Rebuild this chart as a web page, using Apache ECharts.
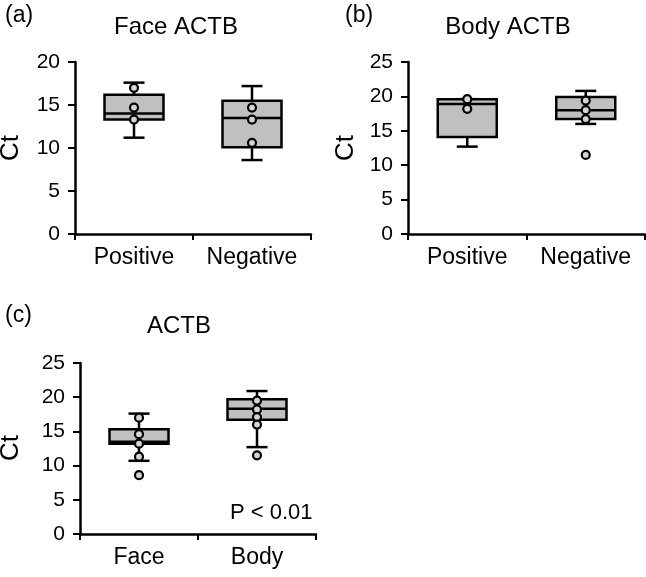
<!DOCTYPE html>
<html><head><meta charset="utf-8">
<script src="https://cdn.jsdelivr.net/npm/echarts@6/dist/echarts.min.js"></script>
<style>html,body{margin:0;padding:0;background:#fff}#c{width:646px;height:577px}</style>
</head><body><div id="c"></div>
<script>
// ---- data ----
const catsA = ['Positive', 'Negative'];
const catsB = ['Positive', 'Negative'];
const catsC = ['Face', 'Body'];
// box stats: [min, Q1, median, Q3, max]
const boxesA = [[11.2, 13.3, 14.0, 16.2, 17.6], [8.6, 10.1, 13.5, 15.5, 17.2]];
const boxesB = [[12.7, 14.1, 18.9, 19.6, 19.6], [16.0, 16.7, 18.0, 19.9, 20.8]];
const boxesC = [[10.7, 13.2, 13.5, 15.3, 17.6], [12.7, 16.7, 18.3, 19.7, 20.9]];
// individual points per category
const pointsA = [[17.0, 14.7, 13.3], [14.7, 13.3, 10.6]];
const pointsB = [[19.6, 18.2], [19.4, 18.0, 16.7, 11.5]];
const pointsC = [[17.0, 14.6, 13.2, 11.3, 8.6], [19.5, 18.2, 17.1, 16.0, 11.5]];
// y-axis ticks
const yTicksA = [0, 5, 10, 15, 20];
const yTicksB = [0, 5, 10, 15, 20, 25];
const yTicksC = [0, 5, 10, 15, 20, 25];
const titles = ['Face ACTB', 'Body ACTB', 'ACTB'];
const panelLabels = ['(a)', '(b)', '(c)'];
const yName = 'Ct';
const pText = 'P < 0.01';

// ---- styling ----
const FONT = '"Liberation Sans", Arial, sans-serif';
const INK = '#000';
const BOX_W = 59, CAP_W = 21, LW = 2.5;

function renderBox(params, api) {
  const cat = api.value(0);
  const pMin = api.coord([cat, api.value(1)]);
  const pQ1 = api.coord([cat, api.value(2)]);
  const pMed = api.coord([cat, api.value(3)]);
  const pQ3 = api.coord([cat, api.value(4)]);
  const pMax = api.coord([cat, api.value(5)]);
  const x = pMin[0], hw = BOX_W / 2, cw = CAP_W / 2;
  const ls = { stroke: INK, lineWidth: LW, fill: null };
  const line = (x1, y1, x2, y2) => ({ type: 'line', shape: { x1, y1, x2, y2 }, style: ls });
  return {
    type: 'group',
    children: [
      line(x, pMin[1], x, pQ1[1]),
      line(x, pQ3[1], x, pMax[1]),
      line(x - cw, pMin[1], x + cw, pMin[1]),
      line(x - cw, pMax[1], x + cw, pMax[1]),
      { type: 'rect', shape: { x: x - hw, y: pQ3[1], width: 2 * hw, height: pQ1[1] - pQ3[1] },
        style: { fill: '#c0c0c0', stroke: INK, lineWidth: LW } },
      line(x - hw, pMed[1], x + hw, pMed[1])
    ]
  };
}

const grids = [
  { left: 75, top: 62, width: 236, height: 172 },
  { left: 408, top: 62, width: 237, height: 172 },
  { left: 80, top: 363, width: 236, height: 171 }
];
const cats = [catsA, catsB, catsC];
const boxes = [boxesA, boxesB, boxesC];
const pts = [pointsA, pointsB, pointsC];
const yt = [yTicksA, yTicksB, yTicksC];

const xAxes = cats.map((c, i) => ({
  type: 'category', gridIndex: i, data: c, boundaryGap: true,
  axisLine: { show: true, lineStyle: { color: INK, width: LW } },
  axisTick: { show: true, length: 6, lineStyle: { color: INK, width: 2 } },
  axisLabel: { fontSize: 23, color: INK, fontFamily: FONT, margin: 12, interval: 0 },
  splitLine: { show: false }
}));
const yAxes = yt.map((t, i) => ({
  type: 'value', gridIndex: i, min: t[0], max: t[t.length - 1], interval: t[1] - t[0],
  axisLine: { show: true, lineStyle: { color: INK, width: LW } },
  axisTick: { show: true, length: 7, lineStyle: { color: INK, width: 2 } },
  axisLabel: { fontSize: 21, color: INK, fontFamily: FONT, margin: 15 },
  splitLine: { show: false }
}));

const series = [];
for (let i = 0; i < 3; i++) {
  series.push({
    type: 'custom', xAxisIndex: i, yAxisIndex: i,
    renderItem: renderBox,
    encode: { x: 0, y: [1, 2, 3, 4, 5] },
    data: boxes[i].map((b, k) => [k, ...b]),
    silent: true, z: 2
  });
  const sd = [];
  pts[i].forEach((arr, k) => arr.forEach(v => sd.push([k, v])));
  series.push({
    type: 'scatter', xAxisIndex: i, yAxisIndex: i, data: sd,
    symbol: 'circle', symbolSize: 8,
    itemStyle: { color: '#d4d4d4', borderColor: INK, borderWidth: 2.2, opacity: 1 },
    silent: true, z: 5
  });
}

const txt = (text, x, y, size, align, extra) => Object.assign({
  type: 'text', x, y,
  style: { text, fontSize: size, fontFamily: FONT, fill: INK, textAlign: align, textVerticalAlign: 'middle' }
}, extra || {});

const graphic = [
  txt(panelLabels[0], 5, 16, 23, 'left'),
  txt(titles[0], 176, 27, 24, 'center'),
  txt(panelLabels[1], 345, 16, 23, 'left'),
  txt(titles[1], 508, 27, 24, 'center'),
  txt(panelLabels[2], 5, 316, 23, 'left'),
  txt(titles[2], 179, 326, 24, 'center'),
  txt(pText, 230, 513, 22, 'left'),
  txt(yName, 11, 148, 26, 'center', { rotation: Math.PI / 2 }),
  txt(yName, 346, 148, 26, 'center', { rotation: Math.PI / 2 }),
  txt(yName, 11, 448, 26, 'center', { rotation: Math.PI / 2 })
];

const chart = echarts.init(document.getElementById('c'), null, { renderer: 'canvas' });
chart.setOption({
  animation: false,
  backgroundColor: '#fff',
  grid: grids,
  xAxis: xAxes,
  yAxis: yAxes,
  series,
  graphic
});
</script></body></html>
